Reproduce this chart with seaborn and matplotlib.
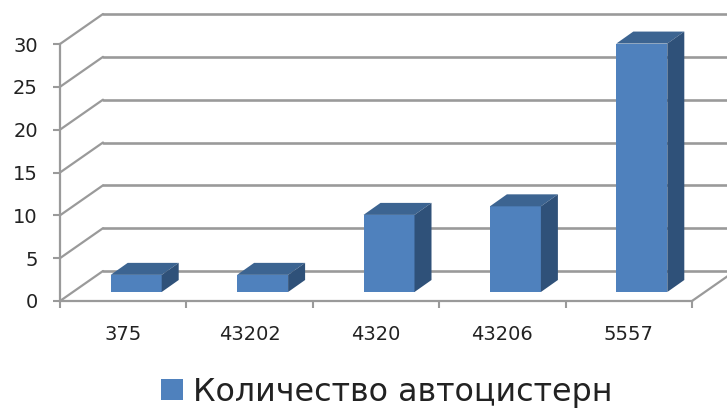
import matplotlib
matplotlib.use("Agg")
import matplotlib.pyplot as plt
from matplotlib.patches import Polygon
import seaborn as sns
import pandas as pd

categories = ["375", "43202", "4320", "43206", "5557"]
values = [2, 2, 9, 10, 29]
y_ticks = [0, 5, 10, 15, 20, 25, 30]
series_name = "Количество автоцистерн"

FRONT, TOP, SIDE = "#4F81BD", "#3C6491", "#2F5179"
GRID = "#9A9A9A"
TXT = "#222222"

W, H = 727, 409
L, R, T, B = 60, 692, 44, 301
sns.set_theme(style="white")
plt.rcParams["font.family"] = ["DejaVu Sans"]

fig = plt.figure(figsize=(W / 100, H / 100), dpi=100, facecolor="white")
ax = fig.add_axes([L / W, 1 - B / H, (R - L) / W, (B - T) / H])
ax.patch.set_alpha(0)

ax.set_xlim(-0.5, 4.5)
ax.set_ylim(0, 30)
px_x = (R - L) / 5          # pixels per category
px_y = (B - T) / 30         # pixels per value unit

depth_x, depth_y = 43 / px_x, 30 / px_y          # chart depth
shift_x, shift_y = 13 / px_x, 9 / px_y           # bar offset from front plane
bar_dx, bar_dy = 17 / px_x, 12 / px_y            # bar depth

# walls and grid
for v in y_ticks:
    ax.plot([-0.5, -0.5 + depth_x], [v, v + depth_y], color=GRID, lw=1.6,
            clip_on=False, zorder=1, solid_capstyle="round")
    ax.plot([-0.5 + depth_x, 4.5 + depth_x], [v + depth_y, v + depth_y], color=GRID,
            lw=1.9, clip_on=False, zorder=1)
ax.plot([4.5, 4.5 + depth_x], [0, depth_y], color=GRID, lw=1.6, clip_on=False, zorder=1)

df = pd.DataFrame({"cat": categories, "val": values})
sns.barplot(data=df, x="cat", y="val", ax=ax, color=FRONT, saturation=1, width=51 / px_x,
            bottom=shift_y, label=series_name, zorder=3, clip_on=False, linewidth=0)
ax.set_xlim(-0.5, 4.5)
ax.set_ylim(0, 30)

for p in list(ax.patches):
    p.set_x(p.get_x() + shift_x)
    p.set_clip_on(False)
    p.set_linewidth(0)
    x0, x1 = p.get_x(), p.get_x() + p.get_width()
    y0, y1 = p.get_y(), p.get_y() + p.get_height()
    ax.add_patch(Polygon([(x0, y1), (x1, y1), (x1 + bar_dx, y1 + bar_dy), (x0 + bar_dx, y1 + bar_dy)],
                         closed=True, fc=TOP, ec="none", clip_on=False, zorder=3))
    ax.add_patch(Polygon([(x1, y0), (x1 + bar_dx, y0 + bar_dy), (x1 + bar_dx, y1 + bar_dy), (x1, y1)],
                         closed=True, fc=SIDE, ec="none", clip_on=False, zorder=3))

# axes
for s in ("top", "right"):
    ax.spines[s].set_visible(False)
for s in ("left", "bottom"):
    ax.spines[s].set_color(GRID)
    ax.spines[s].set_linewidth(1.6)
    ax.spines[s].set_zorder(2)
ax.set_xlabel("")
ax.set_ylabel("")
ax.set_yticks(y_ticks)
ax.set_yticklabels([str(v) for v in y_ticks], fontsize=14, color=TXT)
ax.set_xticks([i - 0.5 for i in range(6)], minor=False)
ax.set_xticklabels([""] * 6)
ax.set_xticks(range(5), labels=categories, minor=True)
ax.tick_params(axis="x", which="major", length=5, width=1.5, color=GRID, bottom=True)
ax.tick_params(axis="x", which="minor", length=0, pad=17, labelsize=14, labelcolor=TXT, bottom=True)
ax.tick_params(axis="y", length=5, width=1.5, color=GRID, left=True, pad=11)

leg = ax.legend(loc="center", bbox_to_anchor=(386.5 / W, 1 - 392 / H), bbox_transform=fig.transFigure,
                frameon=False, fontsize=22.9, handlelength=0.69, handleheight=0.62, handletextpad=0.31,
                borderpad=0, labelcolor=TXT)

fig.savefig("out.png", dpi=100, facecolor="white")
